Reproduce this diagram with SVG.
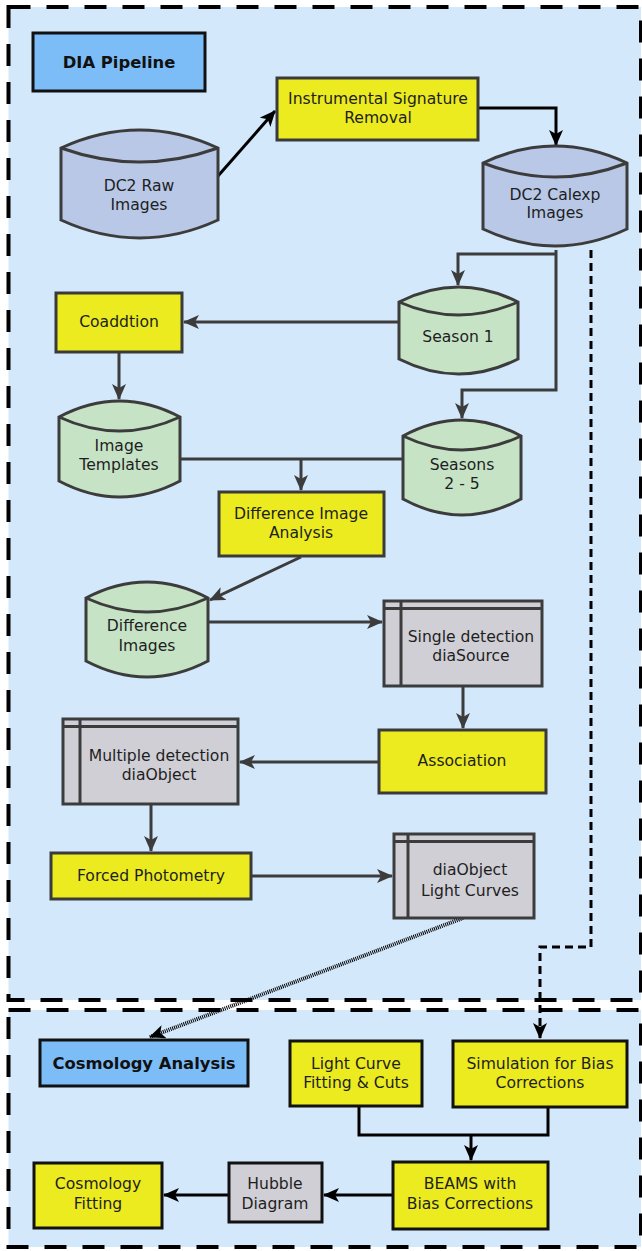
<svg xmlns="http://www.w3.org/2000/svg" width="642" height="1251" viewBox="0 0 642 1251">
<style>
text{font-family:"DejaVu Sans","Liberation Sans",sans-serif;font-size:15.6px;fill:#1e1e1e;text-anchor:middle}
.b{font-weight:bold;fill:#111;font-size:16.4px}
.frame{fill:#d4e8fc;stroke:#000;stroke-width:4;stroke-dasharray:22 16}
.yel{fill:#ebeb1f;stroke:#3a3a3a;stroke-width:3}
.yelk{fill:#ebeb1f;stroke:#111;stroke-width:3}
.blu{fill:#7dbdf7;stroke:#111;stroke-width:3}
.cylb{fill:#b8c8e6;stroke:#3c3c3c;stroke-width:3}
.cylg{fill:#c6e3c6;stroke:#3c3c3c;stroke-width:3}
.gry{fill:#d0cfd6;stroke:#3c3c3c;stroke-width:3}
.gryk{fill:#d0cfd6;stroke:#111;stroke-width:3}
.in{fill:none;stroke:#3c3c3c;stroke-width:3}
.c{fill:none;stroke:#3c3c3c;stroke-width:3}
.ck{fill:none;stroke:#000;stroke-width:3}
</style>
<defs>
<marker id="ak" viewBox="0 0 16 14" refX="15" refY="7" markerWidth="16" markerHeight="14" markerUnits="userSpaceOnUse" orient="auto"><path d="M0,0 L16,7 L0,14 L4,7 z" fill="#000"/></marker>
<marker id="ag" viewBox="0 0 16 14" refX="15" refY="7" markerWidth="16" markerHeight="14" markerUnits="userSpaceOnUse" orient="auto"><path d="M0,0 L16,7 L0,14 L4,7 z" fill="#3c3c3c"/></marker>
</defs>
<rect width="642" height="1251" fill="#ffffff"/>
<g id="frames">
<rect class="frame" x="8.5" y="7" width="632.5" height="993"/>
<rect class="frame" x="8.5" y="1010" width="632.5" height="237"/>
</g>
<g id="connectors">
<path class="ck" d="M218,176 L275,111" marker-end="url(#ak)"/>
<path class="ck" d="M478,108 H556 V145" marker-end="url(#ak)"/>
<path class="c" d="M556,250 V390 H462 V418" marker-end="url(#ag)"/>
<path class="c" d="M556,254 H458 V285" marker-end="url(#ag)"/>
<path class="c" d="M399,322 H184" marker-end="url(#ag)"/>
<path class="c" d="M119,353 V399" marker-end="url(#ag)"/>
<path class="c" d="M181,459 H403"/>
<path class="c" d="M301,459 V490" marker-end="url(#ag)"/>
<path class="c" d="M301,557 L210,600" marker-end="url(#ag)"/>
<path class="c" d="M208,622 H382" marker-end="url(#ag)"/>
<path class="c" d="M463,686 V728" marker-end="url(#ag)"/>
<path class="c" d="M379,762 H240" marker-end="url(#ag)"/>
<path class="c" d="M151,804 V851" marker-end="url(#ag)"/>
<path class="c" d="M251,876 H392" marker-end="url(#ag)"/>
<path d="M463,918 L150,1037" fill="none" stroke="#000" stroke-width="4" stroke-dasharray="1 1" marker-end="url(#ak)"/>
<path d="M591,250 V947 H540 V1038" fill="none" stroke="#000" stroke-width="3" stroke-dasharray="8 5" marker-end="url(#ak)"/>
<path class="ck" d="M359,1107 V1135 H548 V1107"/>
<path class="ck" d="M471,1135 V1160" marker-end="url(#ak)"/>
<path class="ck" d="M393,1195 H324" marker-end="url(#ak)"/>
<path class="ck" d="M229,1195 H164" marker-end="url(#ak)"/>
</g>
<g id="dia-pipeline">
<rect class="blu" x="33" y="33" width="172" height="58"/>
<text class="b" x="119" y="68">DIA Pipeline</text>
</g>
<g id="isr">
<rect class="yel" x="277" y="78" width="201" height="62"/>
<text x="378" y="104">Instrumental Signature</text>
<text x="378" y="123">Removal</text>
</g>
<g id="dc2-raw">
<path class="cylb" d="M61,148 Q139.5,112 218,148 V220 Q139.5,256 61,220 Z"/>
<path class="in" d="M61,148 Q139.5,176 218,148"/>
<text x="139" y="191">DC2 Raw</text>
<text x="139" y="210">Images</text>
</g>
<g id="dc2-calexp">
<path class="cylb" d="M483,163 Q555,129 627,163 V229 Q555,263 483,229 Z"/>
<path class="in" d="M483,163 Q555,191 627,163"/>
<text x="555" y="200">DC2 Calexp</text>
<text x="555" y="218">Images</text>
</g>
<g id="season1">
<path class="cylg" d="M399,302 Q458.5,272 518,302 V359 Q458.5,389 399,359 Z"/>
<path class="in" d="M399,302 Q458.5,328 518,302"/>
<text x="458" y="342">Season 1</text>
</g>
<g id="coaddition">
<rect class="yel" x="56" y="293" width="126" height="59"/>
<text x="119" y="327">Coaddtion</text>
</g>
<g id="image-templates">
<path class="cylg" d="M59,417 Q119.5,385 180,417 V481 Q119.5,513 59,481 Z"/>
<path class="in" d="M59,417 Q119.5,445 180,417"/>
<text x="119" y="451">Image</text>
<text x="119" y="470">Templates</text>
</g>
<g id="seasons2-5">
<path class="cylg" d="M403,436 Q462,404 521,436 V499 Q462,531 403,499 Z"/>
<path class="in" d="M403,436 Q462,464 521,436"/>
<text x="462" y="470">Seasons</text>
<text x="462" y="489">2 - 5</text>
</g>
<g id="dia">
<rect class="yel" x="219" y="492" width="165" height="64"/>
<text x="301" y="519">Difference Image</text>
<text x="301" y="538">Analysis</text>
</g>
<g id="difference-images">
<path class="cylg" d="M86,598 Q147,566 208,598 V661 Q147,693 86,661 Z"/>
<path class="in" d="M86,598 Q147,626 208,598"/>
<text x="147" y="631">Difference</text>
<text x="147" y="651">Images</text>
</g>
<g id="single-detection">
<rect class="gry" x="384" y="601" width="158" height="85"/>
<path class="in" d="M401,601 V686 M384,608.5 H542"/>
<text x="471" y="642">Single detection</text>
<text x="471" y="661">diaSource</text>
</g>
<g id="association">
<rect class="yel" x="379" y="730" width="167" height="63"/>
<text x="462" y="766">Association</text>
</g>
<g id="multiple-detection">
<rect class="gry" x="63" y="719" width="175" height="85"/>
<path class="in" d="M80,719 V804 M63,726.5 H238"/>
<text x="159" y="761">Multiple detection</text>
<text x="159" y="780">diaObject</text>
</g>
<g id="forced-photometry">
<rect class="yel" x="51" y="853" width="200" height="46"/>
<text x="151" y="881">Forced Photometry</text>
</g>
<g id="light-curves">
<rect class="gry" x="394" y="834" width="140" height="84"/>
<path class="in" d="M408,834 V918 M394,841.5 H534"/>
<text x="470" y="875">diaObject</text>
<text x="470" y="896">Light Curves</text>
</g>
<g id="cosmology-analysis">
<rect class="blu" x="40" y="1040" width="208" height="46"/>
<text class="b" x="144" y="1069">Cosmology Analysis</text>
</g>
<g id="lc-fitting">
<rect class="yelk" x="290" y="1041" width="132" height="65"/>
<text x="356" y="1069">Light Curve</text>
<text x="356" y="1088">Fitting &amp; Cuts</text>
</g>
<g id="simulation">
<rect class="yelk" x="453" y="1041" width="174" height="66"/>
<text x="540" y="1069">Simulation for Bias</text>
<text x="540" y="1088">Corrections</text>
</g>
<g id="beams">
<rect class="yelk" x="393" y="1162" width="155" height="67"/>
<text x="470" y="1189">BEAMS with</text>
<text x="470" y="1209">Bias Corrections</text>
</g>
<g id="hubble">
<rect class="gryk" x="229" y="1163" width="93" height="59"/>
<text x="275" y="1189">Hubble</text>
<text x="275" y="1209">Diagram</text>
</g>
<g id="cosmology-fitting">
<rect class="yelk" x="34" y="1163" width="128" height="65"/>
<text x="98" y="1189">Cosmology</text>
<text x="98" y="1209">Fitting</text>
</g>
</svg>
